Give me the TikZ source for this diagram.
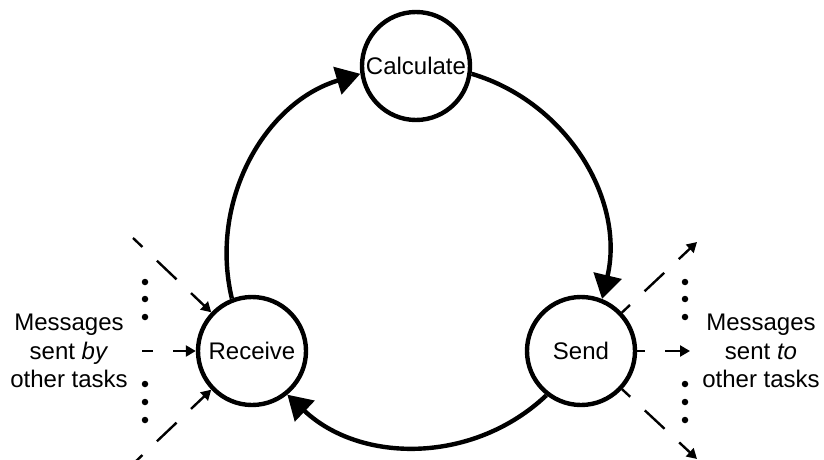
\documentclass[tikz,border=0pt]{standalone}
\usepackage{fontspec}
\setmainfont{Liberation Sans}
\usetikzlibrary{arrows.meta}
\tikzset{
  x=1pt, y=1pt,
  task/.style={circle, draw, line width=4.4pt, fill=white, minimum size=108pt, inner sep=0pt, font=\fontsize{24}{28.5}\selectfont},
  cyc/.style={line width=4.4pt, -{Triangle[length=24pt,width=28pt]}},
  msg/.style={line width=2.4pt, dash pattern=on 27pt off 20pt, -{Triangle[length=10pt,width=11pt]}},
  lbl/.style={align=center, font=\fontsize{24}{28.5}\selectfont},
  dotmark/.style={circle, fill=black, inner sep=0pt, minimum size=6.5pt}
}
\begin{document}
\begin{tikzpicture}
\useasboundingbox (0,0) rectangle (824,459);
\clip (0,0) rectangle (824,459);
% tasks
\node[task] (calc) at (416,393) {Calculate};
\node[task] (recv) at (252,108) {Receive};
\node[task] (send) at (581,108) {Send};
% free ends of the message arrows
\coordinate (lt) at (133,221);
\coordinate (lm) at (142,108);
\coordinate (lb) at (133,-5);
\coordinate (rt) at (697,217);
\coordinate (rm) at (690,108);
\coordinate (rb) at (697,0);
% message arrows
\draw[msg, dash phase=14pt] (lt) -- (recv);
\draw[msg, dash phase=16pt] (lm) -- (recv);
\draw[msg, dash phase=14pt] (lb) -- (recv);
\draw[msg, dash phase=16pt] (send) -- (rt);
\draw[msg, dash phase=19pt] (send) -- (rm);
\draw[msg, dash phase=16pt] (send) -- (rb);
% cycle arcs
\draw[cyc] (calc.-8.3) to[out=-16.6, in=76.6, looseness=0.99] (send.68.3);
\draw[cyc] (send.-128.3) to[out=-136.6, in=-43.4, looseness=0.99] (recv.-51.7);
\draw[cyc] (recv.111.7) to[out=103.4, in=196.6, looseness=0.99] (calc.188.3);
% dots
\foreach \yy [count=\i] in {177,160,142,75,57,39} {
  \node[dotmark] (dl\i) at (145,\yy) {};
  \node[dotmark] (dr\i) at (685,\yy) {};
}
% labels
\node[lbl] (inl) at (69,108) {Messages\\sent \textit{by}\\other tasks};
\node[lbl] (outl) at (761,108) {Messages\\sent \textit{to}\\other tasks};
\end{tikzpicture}
\end{document}
